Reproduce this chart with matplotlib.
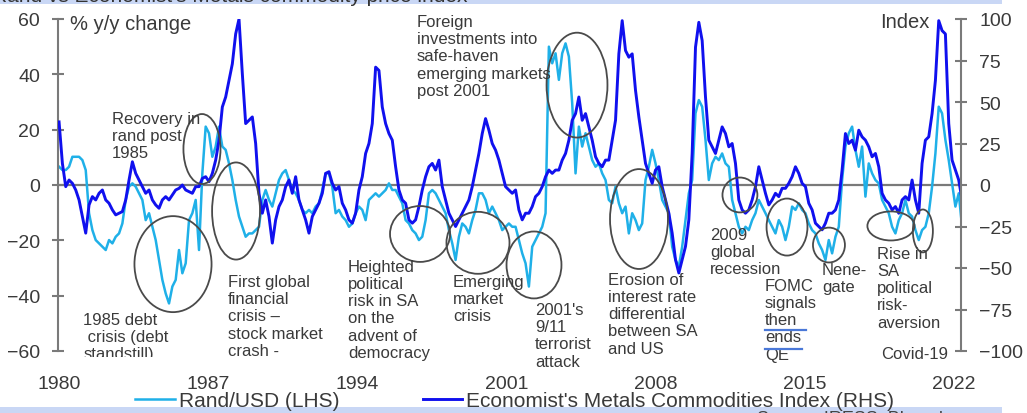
import numpy as np
import matplotlib.pyplot as plt
from matplotlib.patches import Ellipse, Rectangle
from matplotlib.lines import Line2D
from matplotlib.transforms import Bbox, TransformedBbox

plt.rcParams['font.family'] = ['Liberation Sans', 'DejaVu Sans']

# ---- data: Rand/USD % y/y (LHS) and Economist metals index (RHS) ----
rand_usd = [
    6.6, 5.4, 5.4, 6.6, 10.2, 10.2, 10.2, 9.0, 5.4, -10.2, -16.3, -19.9, -21.1, -22.3, -23.5, -19.9, -21.1,
    -18.7, -17.5, -13.9, -5.4, -0.6, 0.6, -0.6, -3.0, -5.4, -12.7, -10.2, -15.1, -19.9, -27.1, -34.3, -39.2,
    -42.8, -36.7, -34.3, -23.5, -31.9, -28.3, -12.7, -10.2, -5.4, -23.5, 4.2, 21.1, 18.7, 10.2, 13.9, 21.1,
    13.9, 12.7, 7.8, 1.8, -5.4, -11.4, -15.1, -18.7, -17.5, -17.5, -16.3, -15.1, -5.4, -1.8, -5.4, -7.8,
    -3.0, 1.8, 4.2,
    5.4, 1.8, -1.8, -3.0, -5.4, -9.0, -10.2, -9.0, -10.2, -7.8, -6.6, -1.8, 4.2, 4.2, -0.6, -10.2, -9.0,
    -11.4, -12.7, -15.1, -13.9, -10.2, -7.8, -9.0, -12.7, -5.4, -4.2, -3.0, -4.2, -3.0, -1.8, 0.6, -1.8,
    -1.8, -4.2, -6.6, -12.7, -13.9, -16.3, -17.5, -19.9, -18.7, -12.7, -3.0, -1.8, -3.0, -5.4, -7.8, -10.2,
    -16.3, -21.1, -27.1, -18.7, -13.9, -15.1, -17.5, -12.7, -9.0, -3.0, -3.0, -5.4, -10.2, -7.8, -10.2,
    -12.7, -16.3, -15.1, -13.9, -15.1,
    -15.1, -19.9, -24.7, -28.3, -36.7, -22.3, -19.9, -17.5, -15.1, -10.2, 50.0, 44.0, 47.6, 38.0, 47.6,
    51.2, 46.4, 29.5, 4.2, 21.1, 13.9, 18.7, 13.9, 9.0, 6.6, 7.8, 4.2, 1.8, -5.4, -6.6, -0.6, -6.6, -10.2,
    -7.8, -17.5, -10.2, -12.7, -16.3, -13.9, 1.8, 6.6, 12.7, 7.8, 1.8, -5.4, -7.8, -10.2, -22.3, -27.1,
    -29.5, -22.3, -12.7, -3.0, 1.8, 25.9, 30.7, 28.3, 16.3, 1.8, 7.8, 10.2, 9.0, 11.4, 7.8, 6.6, -5.4,
    -10.2, -15.1, -17.5,
    -15.1, -16.3, -12.7, -10.2, -5.4, -7.8, -10.2, -12.7, -15.1, -17.5, -12.7, -15.1, -19.9, -15.1, -7.8,
    -9.0, -6.6, -9.0, -10.2, -13.9, -16.3, -17.5, -21.1, -23.5, -27.1, -19.9, -24.7, -18.7, -15.1, 1.8,
    13.9, 18.7, 21.1, 12.7, 6.6, 13.9, -4.2, 7.8, 4.2, 1.8, 0.6, -5.4, -7.8, -10.2, -15.1, -17.5, -12.7,
    -10.2, -5.4, -10.2, -11.4, -16.3, -19.9, -16.3, -15.1, -10.2, -0.6, 11.4, 28.3, 25.9, 16.3, 9.0, 0.6,
    -7.8, -3.0, -15.1,
]
metals_index = [
    38, 13, -1, 3, 1, -3, -9, -19, -29, -12, -7, -9, -5, -3, -9, -11, -15, -18, -17, -16, -9, 3, 14, 7, 3,
    -1, -5, -3, -9, -12, -14, -9, -7, -9, -6, -3, -2, 0, -3, -4, -5, -1, -1, 4, 5, 2, 7, 15, 27, 47, 53, 63,
    73, 91, 100, 67, 37, 39, 41, 25, -5, -17, -9, -19, -35, -21, -13, -9,
    -1, 3, -5, 5, -9, -15, -21, -29, -19, -15, -11, -5, 7, 8, 1, -3, -1, -11, -15, -21, -23, -17, -3, 5, 19,
    25, 37, 71, 69, 47, 37, 31, 27, 11, -3, -9, -11, -21, -23, -21, -13, -3, 5, 11, 13, 9, 15, -1, -9, -17,
    -21, -25, -21, -17, -13, -9, -1, 9, 19, 31, 40, 33, 25, 21, 15, 7, -1, -3, -5,
    -3, -15, -21, -17, -17, -13, -7, -5, -1, 5, 9, 7, 9, 9, 15, 19, 27, 39, 43, 53, 39, 43, 35, 27, 17, 13,
    11, 15, 15, 27, 39, 79, 99, 81, 77, 79, 57, 41, 27, 13, 7, 1, 9, 11, -1, -9, -17, -29, -45, -53, -45,
    -37, -21, 19, 83, 98, 87, 53, 27, 23, 19, 27, 35, 31, 23, 25, 13, -9, -15,
    -17, -15, -9, -1, 11, 3, -5, -12, -9, -5, -7, -2, -2, 1, 5, 11, 7, 1, -1, -11, -15, -23, -25, -27, -23,
    -17, -17, -15, -9, 9, 31, 25, 27, 21, 33, 29, 27, 23, 17, 19, 11, -5, -9, -11, -15, -13, -17, -9, -7,
    -9, 3, -9, -17, 13, 27, 29, 43, 63, 99, 93, 91, 37, 15, 9, 3, -9,
]
dates = np.linspace(1980.0, 2022.4, len(rand_usd))

year_ticks = [1980, 1987, 1994, 2001, 2008, 2015, 2022]
lhs_ticks = [-60, -40, -20, 0, 20, 40, 60]
rhs_ticks = [-100, -75, -50, -25, 0, 25, 50, 75, 100]

# event call-outs: (text, x, y, ha)
events = [
    ("Recovery in\nrand post\n1985", 1982.49, 26.7, "left"),
    ("1985 debt\n crisis (debt\nstandstill)", 1981.13, -45.9, "left"),
    ("First global\nfinancial\ncrisis \u2013\nstock market\ncrash -", 1987.93, -32.2, "left"),
    ("Heighted\npolitical\nrisk in SA\non the\nadvent of\ndemocracy", 1993.57, -26.7, "left"),
    ("Emerging\nmarket\ncrisis", 1998.50, -32.2, "left"),
    ("2001's\n9/11\nterrorist\nattack", 2002.35, -42.3, "left"),
    ("Foreign\ninvestments into\nsafe-haven\nemerging markets\npost 2001", 1996.81, 61.8, "left"),
    ("Erosion of\ninterest rate\ndifferential\nbetween SA\nand US", 2005.77, -31.4, "left"),
    ("2009\nglobal\nrecession", 2010.56, -15.2, "left"),
    ("FOMC\nsignals\nthen\nends\nQE", 2013.15, -33.6, "left"),
    ("Nene-\ngate", 2015.82, -27.8, "left"),
    ("Rise in\nSA\npolitical\nrisk-\naversion", 2018.40, -22.0, "left"),
    ("Covid-19", 2021.74, -58.2, "right"),
]
# ellipses round each episode: (x centre, y centre, width in years, height in %)
circles = [
    (1986.71, 13.0, 1.74, 25.3),
    (1985.35, -28.6, 3.62, 34.7),
    (1988.31, -9.4, 2.25, 35.1),
    (1996.95, -17.7, 2.82, 20.2),
    (1999.67, -20.9, 2.96, 22.4),
    (2002.30, -28.9, 2.58, 24.2),
    (2004.32, 36.1, 2.86, 37.9),
    (2007.23, -12.3, 2.72, 36.1),
    (2011.97, -3.6, 1.64, 12.6),
    (2014.18, -15.2, 1.92, 20.6),
    (2016.15, -21.7, 1.50, 12.6),
    (2019.06, -14.8, 2.21, 10.5),
    (2020.56, -16.6, 0.94, 15.5),
]

LIGHT = "#1fb0e8"
DARK = "#1010ee"
GREY = "#7a7a7a"
TXT = "#3a3a3a"

W, H = 1027, 414
fig = plt.figure(figsize=(W / 100, H / 100), dpi=100)
ax = fig.add_axes([58 / W, (H - 352) / H, 903 / W, 332 / H])
ax2 = ax.twinx()

ax.plot(dates, rand_usd, color=LIGHT, lw=1.8, label="Rand/USD (LHS)")
ax2.plot(dates, metals_index, color=DARK, lw=2.1, label="Economist's Metals Commodities Index (RHS)")
ax.axhline(0, color=GREY, lw=1.6, zorder=1)

ax.set_xlim(1979.95, 2022.35)
ax.set_ylim(-60, 60)
ax2.set_ylim(-100, 100)
ax.set_xticks(year_ticks)
ax.set_yticks(lhs_ticks)
ax2.set_yticks(rhs_ticks)

for a in (ax, ax2):
    for s in a.spines.values():
        s.set_visible(False)
ax.spines["left"].set_visible(True)
ax.spines["left"].set_color(GREY)
ax.spines["left"].set_linewidth(1.5)
ax2.spines["right"].set_visible(True)
ax2.spines["right"].set_color(GREY)
ax2.spines["right"].set_linewidth(1.5)

ax.tick_params(axis="x", length=0, pad=17, labelsize=14, labelcolor=TXT)
ax.tick_params(axis="y", direction="inout", length=8, width=1.5, color=GREY, pad=9,
               labelsize=14, labelcolor=TXT)
ax2.tick_params(axis="y", direction="inout", length=8, width=1.5, color=GREY, pad=9,
                labelsize=14, labelcolor=TXT)

ax.text(1980.52, 61.8, "% y/y change", fontsize=14.5, color=TXT, va="top", ha="left")
ax.text(2020.89, 62.5, "Index", fontsize=14.5, color=TXT, va="top", ha="right")

for cx, cy, w, h in circles:
    ax2.add_patch(Ellipse((cx, cy), w, h, transform=ax.transData, fill=False,
                          edgecolor="#4a4a4a", lw=1.3, zorder=5))

clip = TransformedBbox(Bbox.from_extents(0, (H - 358) / H, 1, 1), fig.transFigure)
for label, x, y, ha in events:
    t = ax2.text(x, y, label, transform=ax.transData, fontsize=12, color=TXT,
                 va="top", ha=ha, linespacing=1.18, zorder=6)
    if label.startswith("1985"):
        t.set_clip_on(True)
        t.set_clip_box(clip)

# spell-check style underlines under "then" / "ends"
for yp, x0, x1 in [(331, 765, 806), (350, 765, 802)]:
    fig.add_artist(Line2D([x0 / W, x1 / W], [(H - yp) / H] * 2, color="#4a78d8", lw=1.6))

# title band at the top and source band at the bottom
fig.add_artist(Rectangle((0, (H - 5) / H), 1002 / W, 5 / H, transform=fig.transFigure,
                         facecolor="#c9d7f5", edgecolor="none", zorder=0))
fig.text(-8 / W, (H - 1.5) / H, "Rand vs Economist's Metals commodity price index",
         fontsize=15, color="#333333", ha="left", va="baseline")
fig.add_artist(Rectangle((0, 0), 1002 / W, 6 / H, transform=fig.transFigure,
                         facecolor="#c9d7f5", edgecolor="none", zorder=0))
fig.text(757 / W, (H - 411) / H, "Source: IRESS, Bloomberg", fontsize=13, color="#444444",
         ha="left", va="top")

h1, l1 = ax.get_legend_handles_labels()
h2, l2 = ax2.get_legend_handles_labels()
fig.legend(h1 + h2, l1 + l2, loc="center left", bbox_to_anchor=(135 / W, (H - 402) / H),
           ncol=2, frameon=False, fontsize=15, handlelength=1.9, handletextpad=0.2,
           columnspacing=4.0, borderpad=0, borderaxespad=0, labelcolor=TXT)

fig.savefig("out.png", dpi=100)
